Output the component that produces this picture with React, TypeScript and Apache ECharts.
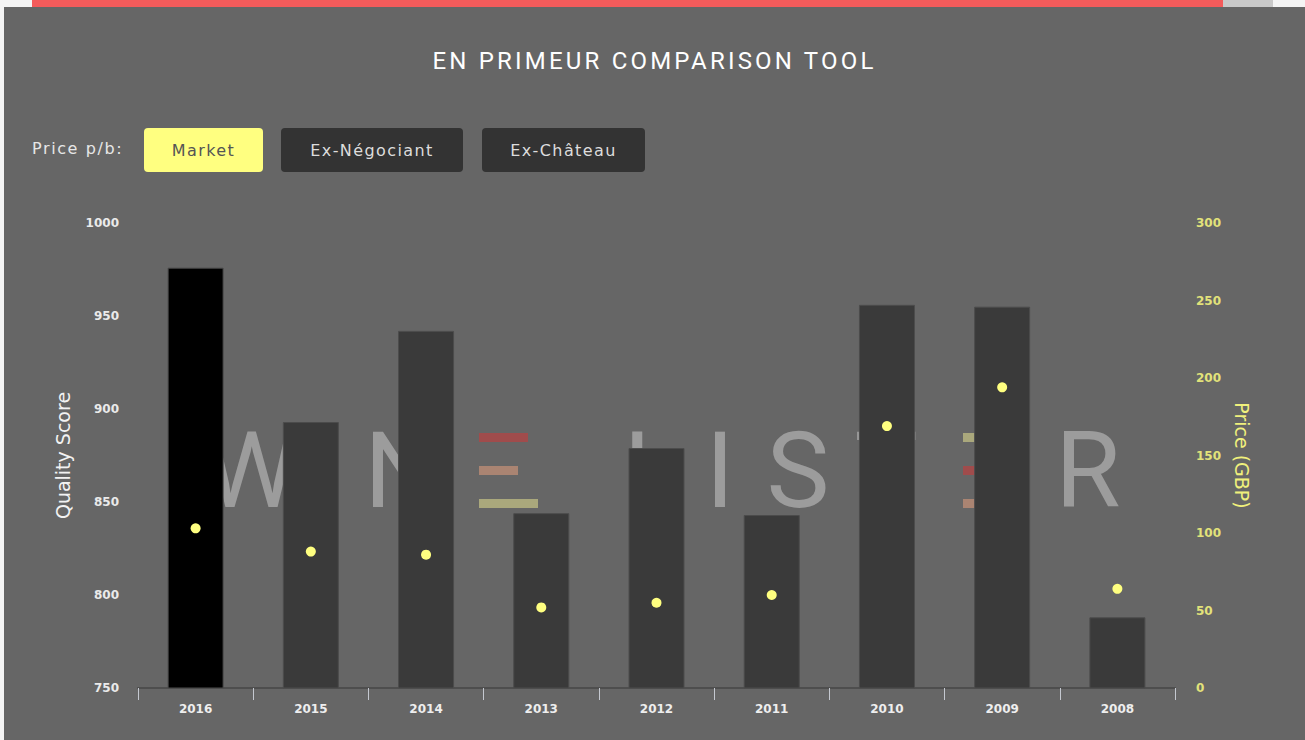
import React, { useEffect, useRef } from "react";
import * as echarts from "echarts";

const years = ["2016", "2015", "2014", "2013", "2012", "2011", "2010", "2009", "2008"];
const qualityScores = [976, 893, 942, 844, 879, 843, 956, 955, 788];
const prices = [103, 88, 86, 52, 55, 60, 169, 194, 64];
const leftTicks = { min: 750, max: 1000, interval: 50 };
const rightTicks = { min: 0, max: 300, interval: 50 };
const highlightedYear = "2016";

const buttons = [
  { label: "Market", active: true, left: 144, width: 119 },
  { label: "Ex-Négociant", active: false, left: 281, width: 182 },
  { label: "Ex-Château", active: false, left: 482, width: 163 },
];

function watermark() {
  const letterStyle = {
    fill: "#9c9c9c",
    fontSize: 106,
    fontFamily: "Roboto",
    fontWeight: 400,
    align: "center",
    verticalAlign: "middle",
  } as any;
  const letters = [
    { t: "W", x: 251 },
    { t: "I", x: 318 },
    { t: "N", x: 402 },
    { t: "L", x: 652 },
    { t: "I", x: 720 },
    { t: "S", x: 798 },
    { t: "T", x: 886 },
    { t: "R", x: 1088 },
  ];
  const els: any[] = letters.map((l) => ({
    type: "text",
    x: l.x,
    y: 471,
    z: 0,
    silent: true,
    style: { ...letterStyle, text: l.t },
  }));
  const eBars = (x0: number, colors: string[]) => {
    const rows = [
      { y: 433, w: 49 },
      { y: 466, w: 39 },
      { y: 499, w: 59 },
    ];
    rows.forEach((r, i) =>
      els.push({
        type: "rect",
        z: 0,
        silent: true,
        shape: { x: x0, y: r.y, width: r.w, height: 9 },
        style: { fill: colors[i] },
      })
    );
  };
  eBars(479, ["#a04c4c", "#aa8472", "#aaa87c"]);
  eBars(963, ["#aaa87c", "#a04c4c", "#aa8472"]);
  return els;
}

export default function App() {
  const ref = useRef<HTMLDivElement>(null);
  useEffect(() => {
    if (!ref.current) return;
    const chart = echarts.init(ref.current, undefined, { renderer: "svg" });
    const labelFont = { fontFamily: "DejaVu Sans", fontSize: 12, fontWeight: "bold" as const };
    const plain = (v: number) => String(v);
    chart.setOption({
      animation: false,
      backgroundColor: "transparent",
      graphic: watermark(),
      grid: { left: 138, right: 130, top: 223, bottom: 52, containLabel: false },
      xAxis: {
        type: "category",
        data: years,
        axisLine: { lineStyle: { color: "#4e4e4e", width: 2 } },
        axisTick: { show: true, length: 12, lineStyle: { color: "#c4c8d0", width: 1 } },
        axisLabel: { color: "#eeeeee", margin: 15, ...labelFont },
        splitLine: { show: false },
      },
      yAxis: [
        {
          type: "value",
          position: "left",
          ...leftTicks,
          axisLine: { show: false },
          axisTick: { show: false },
          splitLine: { show: false },
          axisLabel: { color: "#eaeaea", margin: 19, formatter: plain, ...labelFont },
          name: "Quality Score",
          nameLocation: "middle",
          nameRotate: 90,
          nameGap: 66,
          nameTextStyle: { color: "#f2f2f2", fontSize: 19, fontFamily: "DejaVu Sans" },
        },
        {
          type: "value",
          position: "right",
          ...rightTicks,
          axisLine: { show: false },
          axisTick: { show: false },
          splitLine: { show: false },
          axisLabel: { color: "#e2e27a", margin: 21, formatter: plain, ...labelFont },
          name: "Price (GBP)",
          nameLocation: "middle",
          nameRotate: -90,
          nameGap: 57,
          nameTextStyle: { color: "#f0f07c", fontSize: 19, fontFamily: "DejaVu Sans" },
        },
      ],
      series: [
        {
          type: "bar",
          yAxisIndex: 0,
          barWidth: 56,
          z: 2,
          data: qualityScores.map((v, i) => ({
            value: v,
            itemStyle: {
              color: years[i] === highlightedYear ? "#000000" : "#3a3a3a",
              borderColor: "#4c4c4c",
              borderWidth: 1,
            },
          })),
        },
        {
          type: "scatter",
          yAxisIndex: 1,
          symbolSize: 10,
          z: 3,
          itemStyle: { color: "#ffff80", opacity: 1 },
          data: prices,
        },
      ],
    });
    return () => chart.dispose();
  }, []);

  return (
    <div style={{ position: "absolute", left: 0, top: 0, width: 1305, height: 740, background: "#f4f4f4", overflow: "hidden" }}>
      <div style={{ position: "absolute", left: 32, top: 0, width: 1191, height: 7, background: "#f45b5b" }} />
      <div style={{ position: "absolute", left: 1223, top: 0, width: 50, height: 7, background: "#c9c9c9" }} />
      <div style={{ position: "absolute", left: 4, top: 7, width: 1301, height: 733, background: "#666666" }} />
      <div
        style={{
          position: "absolute",
          left: 4,
          top: 45,
          width: 1301,
          textAlign: "center",
          color: "#ffffff",
          fontFamily: "Roboto",
          fontSize: 24,
          letterSpacing: 3.2,
          lineHeight: "32px",
        }}
      >
        EN PRIMEUR COMPARISON TOOL
      </div>
      <div
        style={{
          position: "absolute",
          left: 32,
          top: 138,
          color: "#e6e6e6",
          fontFamily: "DejaVu Sans",
          fontSize: 16,
          letterSpacing: 1.6,
          lineHeight: "22px",
        }}
      >
        Price p/b:
      </div>
      {buttons.map((b) => (
        <div
          key={b.label}
          style={{
            position: "absolute",
            left: b.left,
            top: 128,
            width: b.width,
            height: 44,
            borderRadius: 4,
            background: b.active ? "#ffff80" : "#333333",
            color: b.active ? "#555555" : "#dddddd",
            fontFamily: "DejaVu Sans",
            fontSize: 16,
            letterSpacing: 1.4,
            lineHeight: "46px",
            textAlign: "center",
          }}
        >
          {b.label}
        </div>
      ))}
      <div ref={ref} style={{ position: "absolute", left: 0, top: 0, width: 1305, height: 740 }} />
    </div>
  );
}
